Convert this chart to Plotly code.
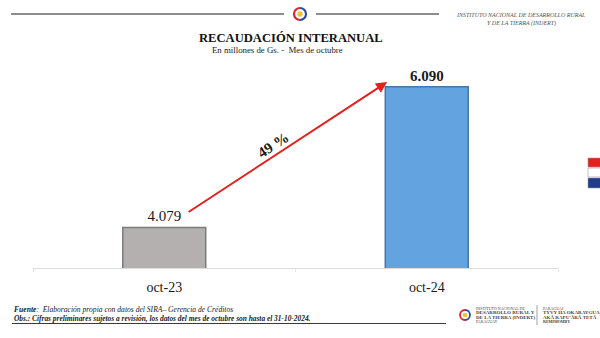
import plotly.graph_objects as go

# --- data ---
categories = ["oct-23", "oct-24"]
values = [4079, 6090]
growth_label = "49 %"
bar_colors = ["#b4b0af", "#62a3e0"]
bar_borders = ["#7b7b7b", "#4877a6"]

W, H = 600, 338
SERIF = "Liberation Serif, Times New Roman, serif"


def px(x):
    return x / W


def py(y):
    return 1 - y / H


def fmt(v):
    return f"{v:,}".replace(",", ".")


labels = [fmt(values[0]), "<b>" + fmt(values[1]) + "</b>"]

fig = go.Figure()
fig.add_trace(go.Bar(
    x=categories, y=values, width=0.316,
    marker=dict(color=bar_colors, line=dict(color=bar_borders, width=1.5)),
    text=labels, textposition="outside", cliponaxis=False,
    textfont=dict(family=SERIF, size=15, color="#1a1a1a"),
    hoverinfo="skip",
))

shapes = []
annotations = []


def seg(x0, y0, x1, y1, color, width):
    shapes.append(dict(type="path", xref="paper", yref="paper",
                       path=f"M {px(x0)},{py(y0)} L {px(x1)},{py(y1)}",
                       line=dict(color=color, width=width)))


def note(x, y, text, size, color="#1a1a1a", xanchor="center"):
    annotations.append(dict(xref="paper", yref="paper", x=px(x), y=py(y), xanchor=xanchor,
                            yanchor="middle", showarrow=False, text=text,
                            font=dict(family=SERIF, size=size, color=color)))


# header rules and emblem
seg(11, 14, 284, 14, "#8d8d8d", 2)
seg(316, 14, 439, 14, "#8d8d8d", 2)


def arc_path(cx, cy, r, side):
    # half-circle approximated with two cubic curves, in paper units
    k = 0.5523 * r
    s = -1 if side == "left" else 1
    pts = [
        (cx, cy - r),
        (cx + s * k, cy - r), (cx + s * r, cy - k), (cx + s * r, cy),
        (cx + s * r, cy + k), (cx + s * k, cy + r), (cx, cy + r),
    ]
    p = [(px(a), py(b)) for a, b in pts]
    return (f"M {p[0][0]},{p[0][1]} C {p[1][0]},{p[1][1]} {p[2][0]},{p[2][1]} {p[3][0]},{p[3][1]} "
            f"C {p[4][0]},{p[4][1]} {p[5][0]},{p[5][1]} {p[6][0]},{p[6][1]}")


def emblem(cx, cy, r, lw):
    shapes.append(dict(type="path", xref="paper", yref="paper", path=arc_path(cx, cy, r, "left"),
                       line=dict(color="#e0262b", width=lw)))
    shapes.append(dict(type="path", xref="paper", yref="paper", path=arc_path(cx, cy, r, "right"),
                       line=dict(color="#2f4aa0", width=lw)))
    shapes.append(dict(type="circle", xref="paper", yref="paper",
                       x0=px(cx - r * 0.45), x1=px(cx + r * 0.45), y0=py(cy - r * 0.45), y1=py(cy + r * 0.45),
                       fillcolor="#f2c230", line=dict(width=0)))


emblem(300, 14, 6, 2.2)

note(521, 15, "<i>INSTITUTO NACIONAL DE DESARROLLO RURAL</i>", 6, "#555555")
note(521, 23, "<i>Y DE LA TIERRA (INDERT)</i>", 6, "#555555")

# titles
note(291, 38, "<b>RECAUDACIÓN INTERANUAL</b>", 12.6, "#111111")
note(277, 50, "En millones de Gs. -  Mes de octubre", 8.8, "#222222")

# growth arrow between the two bars
x_start, y_start = 0 + 0.087, values[0] + 207
x_end, y_end = 1 - 0.151, values[1] + 67
annotations.append(dict(x=x_end, y=y_end, ax=x_start, ay=y_start, xref="x", yref="y",
                        axref="x", ayref="y", showarrow=True, arrowhead=2, arrowsize=1.1,
                        arrowwidth=2, arrowcolor="#e3201b", text=""))
annotations.append(dict(x=(x_start + x_end) / 2, y=(y_start + y_end) / 2, xref="x", yref="y",
                        showarrow=False, text="<b>" + growth_label + "</b>", textangle=-33,
                        xshift=-14, yshift=3,
                        font=dict(family=SERIF, size=15, color="#1a1a1a")))

# footer notes
note(12, 309, "<b><i>Fuente</i></b><i>:  Elaboración propia con datos del SIRA– Gerencia de Créditos</i>",
     7.6, xanchor="left")
note(12, 318, "<b><i>Obs.: Cifras preliminares sujetos a revisión, los datos del mes de octubre son hasta el 31-10-2024.</i></b>",
     7.4, xanchor="left")
seg(12, 323.5, 446, 323.5, "#3a3a3a", 1)

# footer institutional block
emblem(465, 315, 5, 1.8)
left_block = ["INSTITUTO NACIONAL DE", "<b>DESARROLLO RURAL Y</b>", "<b>DE LA TIERRA (INDERT)</b>", "PARAGUAY"]
right_block = ["PARAGUAI", "<b>TYVY HA OKARAYGUA</b>", "<b>AKÃ RAPU'ÃRÃ TETÃ</b>", "<b>REMIMOMBY</b>"]
for i, (a, b) in enumerate(zip(left_block, right_block)):
    sz = 4 if i in (0, 3) else 5
    note(474, 308.5 + i * 4.4, a, sz, "#444444", xanchor="left")
    note(541, 308.5 + i * 4.4, b, sz, "#444444", xanchor="left")
seg(537, 305, 537, 325, "#888888", 0.8)

# side flag
for (y0, y1, c) in [(158, 167, "#e3201b"), (168, 177, "#ffffff"), (178, 188, "#1f3d8a")]:
    shapes.append(dict(type="rect", xref="paper", yref="paper", x0=px(588), x1=px(601), y0=py(y1), y1=py(y0),
                       fillcolor=c, line=dict(color="#9a9a9a", width=0.6)))

fig.update_layout(
    width=W, height=H, margin=dict(l=0, r=0, t=0, b=0),
    paper_bgcolor="white", plot_bgcolor="white",
    showlegend=False, bargap=0.68,
    shapes=shapes, annotations=annotations,
    xaxis=dict(domain=[px(33), px(558)], range=[-0.5, 1.5], showgrid=False, zeroline=False,
               showline=True, linecolor="#dcdcdc", linewidth=1,
               ticks="outside", tickson="boundaries", ticklen=3, tickcolor="#e4e4e4",
               tickfont=dict(family=SERIF, size=14, color="#1a1a1a"), ticklabelstandoff=6),
    yaxis=dict(domain=[py(268), py(65)], range=[3500, 6400], visible=False),
)

fig.write_html("out.html")
